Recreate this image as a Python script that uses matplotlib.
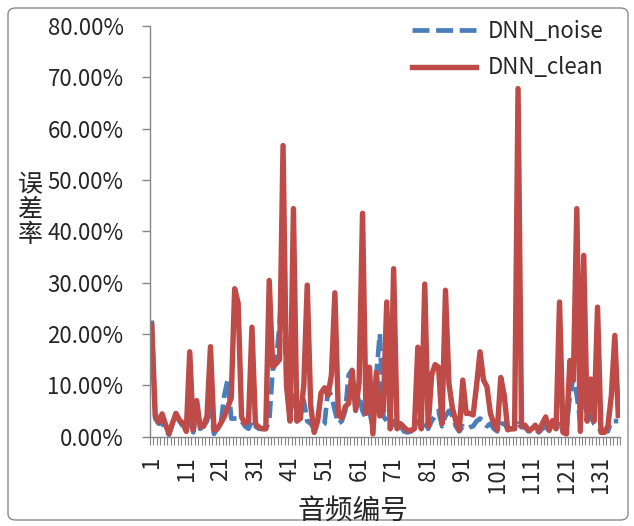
import matplotlib
matplotlib.use("Agg")
import matplotlib.pyplot as plt
from matplotlib.patches import FancyBboxPatch
from matplotlib.ticker import FuncFormatter, FixedLocator
import numpy as np

plt.rcParams["font.family"] = ["Noto Sans CJK SC", "DejaVu Sans"]

# error rate per audio clip, in percent
dnn_clean = [
    21.7, 4.2, 2.8, 4.4, 2.3, 0.6, 2.6, 4.5, 3.2, 2.6,
    1.0, 16.5, 1.3, 7.0, 1.9, 2.0, 4.0, 17.5, 1.3, 1.5,
    2.6, 3.9, 5.7, 7.5, 28.8, 26.0, 3.8, 2.5, 3.0, 21.3,
    2.5, 1.8, 1.5, 1.5, 30.4, 13.6, 14.2, 15.0, 56.7, 10.0,
    3.0, 44.4, 3.0, 3.5, 10.0, 29.5, 6.0, 0.8, 3.0, 8.5,
    9.5, 8.0, 12.0, 28.0, 4.2, 3.6, 5.8, 6.5, 12.8, 5.2,
    10.5, 43.5, 4.5, 13.5, 0.5, 12.5, 4.0, 5.0, 26.2, 1.5,
    32.7, 1.5, 2.5, 1.8, 1.2, 1.2, 1.5, 17.4, 1.5, 29.7,
    2.0, 12.0, 14.0, 13.5, 2.5, 28.5, 10.3, 5.5, 3.0, 1.2,
    11.0, 4.5, 4.5, 4.2, 10.0, 16.5, 11.0, 9.7, 4.5, 2.5,
    1.3, 11.5, 8.0, 1.3, 1.5, 1.5, 67.8, 2.0, 2.2, 1.2,
    1.5, 2.2, 1.0, 2.5, 3.8, 1.2, 3.1, 1.5, 26.2, 0.8,
    0.5, 14.8, 10.9, 44.4, 1.0, 35.3, 3.0, 11.2, 3.0, 25.2,
    0.8, 0.8, 2.0, 8.0, 19.7, 4.1,
]
dnn_noise = [
    22.6, 3.5, 2.5, 2.6, 1.5, 0.3, 2.5, 4.5, 3.0, 2.0,
    1.0, 4.0, 0.8, 5.0, 1.5, 2.0, 3.0, 6.0, 0.5, 1.5,
    2.5, 8.0, 11.2, 3.5, 3.5, 3.5, 3.0, 2.0, 1.5, 3.0,
    2.0, 1.5, 1.5, 1.5, 3.0, 13.0, 14.5, 22.0, 32.0, 10.0,
    4.0, 8.0, 3.0, 5.0, 7.0, 3.0, 2.5, 1.5, 2.0, 2.0,
    2.5, 9.0, 8.0, 5.0, 2.5, 3.0, 5.0, 12.0, 13.0, 5.0,
    8.0, 5.0, 3.5, 5.0, 1.5, 12.0, 20.0, 4.0, 3.0, 1.5,
    3.0, 1.5, 2.0, 1.0, 0.8, 1.0, 1.5, 3.0, 1.5, 3.0,
    1.5, 3.0, 4.0, 5.0, 2.0, 4.0, 5.0, 4.0, 2.0, 1.0,
    2.0, 1.5, 1.8, 2.0, 3.0, 3.5, 3.0, 2.0, 2.5, 1.5,
    1.0, 2.5, 2.5, 1.5, 1.5, 1.5, 2.5, 1.8, 1.8, 1.0,
    1.2, 1.5, 0.8, 1.5, 2.0, 1.0, 2.5, 1.5, 3.0, 1.0,
    1.5, 8.0, 11.5, 8.0, 3.0, 9.0, 3.0, 4.0, 2.5, 2.0,
    1.0, 1.0, 1.0, 3.0, 3.0, 3.0,
]
audio_ids = np.arange(1, len(dnn_clean) + 1)
x_tick_labels = list(range(1, 132, 10))
y_ticks = [0.0, 0.1, 0.2, 0.3, 0.4, 0.5, 0.6, 0.7, 0.8]

blue = "#4A7EBB"
red = "#BE4B48"
axis_grey = "#868686"
text_col = "#262626"

fig = plt.figure(figsize=(6.34, 5.26), dpi=100)
ax = fig.add_axes([150 / 634, 1 - 436.5 / 526, 470 / 634, (436.5 - 26) / 526])

ax.plot(audio_ids, np.array(dnn_noise) / 100, color=blue, lw=3.4,
        ls=(0, (3.6, 1.4)), label="DNN_noise", solid_capstyle="butt")
ax.plot(audio_ids, np.array(dnn_clean) / 100, color=red, lw=3.9,
        label="DNN_clean", solid_joinstyle="round")

ax.set_xlim(0.5, len(audio_ids) + 0.5)
ax.set_ylim(0, 0.8)

ax.yaxis.set_major_locator(FixedLocator(y_ticks))
ax.yaxis.set_major_formatter(FuncFormatter(lambda v, _: f"{v * 100:.2f}%"))
ax.xaxis.set_major_locator(FixedLocator(x_tick_labels))
ax.xaxis.set_minor_locator(FixedLocator(np.arange(0.5, len(audio_ids) + 1, 1)))
ax.set_xticklabels([str(v) for v in x_tick_labels], rotation=90)

for side in ("top", "right"):
    ax.spines[side].set_visible(False)
for side in ("left", "bottom"):
    ax.spines[side].set_color(axis_grey)
    ax.spines[side].set_linewidth(1.0)

ax.tick_params(axis="y", direction="out", length=6, width=1, color=axis_grey,
               labelsize=16, pad=13, labelcolor=text_col)
ax.tick_params(axis="x", which="major", length=0, labelsize=16, pad=14,
               labelcolor=text_col)
ax.tick_params(axis="x", which="minor", direction="out", length=6, width=0.8,
               color=axis_grey)

fig.text(30 / 634, 1 - 210 / 526, "误\n差\n率", fontsize=18, ha="center",
         va="center", linespacing=0.95, color=text_col)
fig.text(353 / 634, 1 - 511 / 526, "音频编号", fontsize=20, ha="center",
         va="center", color=text_col)

ax.legend(loc="upper left", bbox_to_anchor=(412 / 634, 1 - 20 / 526),
          bbox_transform=fig.transFigure, frameon=False, fontsize=16,
          handlelength=2.9, handletextpad=0.5, labelspacing=0.6,
          borderpad=0, borderaxespad=0, labelcolor=text_col)

border = FancyBboxPatch((8 / 634, 6 / 526), 620 / 634, 512 / 526,
                        boxstyle="round,pad=0,rounding_size=0.012",
                        transform=fig.transFigure, fill=False,
                        edgecolor="#8C8C8C", lw=1.0)
fig.patches.append(border)

fig.savefig("out.png", dpi=100)
